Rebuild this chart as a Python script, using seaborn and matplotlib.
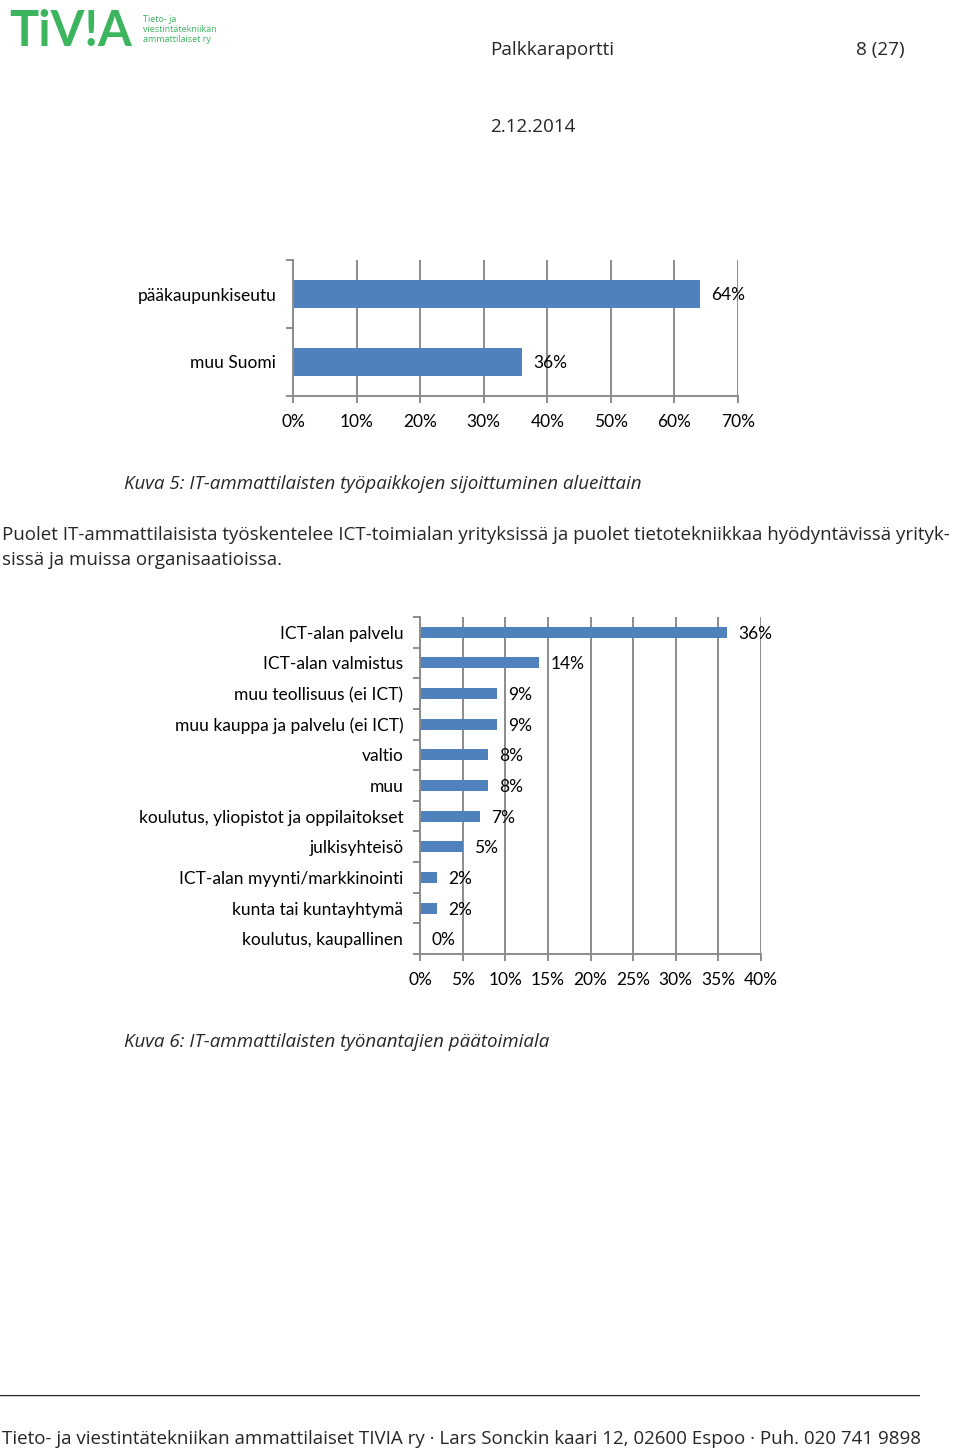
import matplotlib
matplotlib.use("Agg")
import matplotlib.pyplot as plt
import seaborn as sns
import pandas as pd
from matplotlib.ticker import FixedLocator, PercentFormatter

# ---- data ----
region_labels = ["pääkaupunkiseutu", "muu Suomi"]
region_values = [64, 36]

industry_labels = [
    "ICT-alan palvelu",
    "ICT-alan valmistus",
    "muu teollisuus (ei ICT)",
    "muu kauppa ja palvelu (ei ICT)",
    "valtio",
    "muu",
    "koulutus, yliopistot ja oppilaitokset",
    "julkisyhteisö",
    "ICT-alan myynti/markkinointi",
    "kunta tai kuntayhtymä",
    "koulutus, kaupallinen",
]
industry_values = [36, 14, 9, 9, 8, 8, 7, 5, 2, 2, 0]

x1_ticks = [0, 10, 20, 30, 40, 50, 60, 70]
x2_ticks = [0, 5, 10, 15, 20, 25, 30, 35, 40]

# ---- style ----
sns.set_theme(style="white")
plt.rcParams["font.family"] = ["Lato", "DejaVu Sans"]
BAR = "#4F81BD"
GRID = "#8c8c8c"
W, H = 960, 1449
fig = plt.figure(figsize=(W / 100, H / 100), dpi=100)


def ptxt(x, y, s, **kw):
    fig.text(x / W, 1 - y / H, s, **kw)


def axes_px(left, top, right, bottom):
    return fig.add_axes([left / W, 1 - bottom / H, (right - left) / W, (bottom - top) / H])


def style_chart(ax, labels, ticks):
    ax.set_xlim(ticks[0], ticks[-1])
    n = len(labels)
    ax.set_ylim(n - 0.5, -0.5)
    ax.xaxis.set_major_locator(FixedLocator(ticks))
    ax.xaxis.set_major_formatter(PercentFormatter(decimals=0))
    ax.grid(axis="x", color=GRID, lw=1.4)
    ax.grid(axis="y", visible=False)
    ax.set_axisbelow(True)
    for s in ["top", "right"]:
        ax.spines[s].set_visible(False)
    for s in ["left", "bottom"]:
        ax.spines[s].set_visible(True)
        ax.spines[s].set_color(GRID)
        ax.spines[s].set_linewidth(1.4)
    ax.set_xlabel("")
    ax.set_ylabel("")
    ax.tick_params(axis="x", bottom=True, length=5, width=1.4, color=GRID, pad=8,
                   labelsize=12.5, labelcolor="black")
    ax.tick_params(axis="y", which="major", left=False, length=0, pad=12,
                   labelsize=12.5, labelcolor="black")
    ax.yaxis.set_minor_locator(FixedLocator([i - 0.5 for i in range(n + 1)]))
    ax.tick_params(axis="y", which="minor", left=True, length=5, width=1.4, color=GRID)
    for c in ax.containers:
        texts = ax.bar_label(c, labels=[f"{v:.0f}%" for v in c.datavalues], padding=8,
                             fontsize=12.5, color="black")
        for t in texts:
            t.set_verticalalignment("center_baseline")


# ---- chart 1 ----
ax1 = axes_px(293, 260, 738, 396)
df1 = pd.DataFrame({"cat": region_labels, "val": region_values})
sns.barplot(data=df1, x="val", y="cat", orient="h", color=BAR, saturation=1,
            width=0.4, linewidth=0, ax=ax1)
style_chart(ax1, region_labels, x1_ticks)

# ---- chart 2 ----
ax2 = axes_px(420, 617, 761, 954)
df2 = pd.DataFrame({"cat": industry_labels, "val": industry_values})
sns.barplot(data=df2, x="val", y="cat", orient="h", color=BAR, saturation=1,
            width=0.36, linewidth=0, ax=ax2)
style_chart(ax2, industry_labels, x2_ticks)

# ---- page text ----
BODY = ["Open Sans", "DejaVu Sans"]
FS = 13.6
ptxt(9, 32, "TiV!A", fontsize=35, fontweight="bold", color="#3DB55F",
     va="center", ha="left", family=["Lato", "DejaVu Sans"])
ptxt(143, 20, "Tieto- ja", fontsize=6.5, color="#3DB55F", va="center", family=BODY)
ptxt(143, 30, "viestintätekniikan", fontsize=6.5, color="#3DB55F", va="center", family=BODY)
ptxt(143, 40, "ammattilaiset ry", fontsize=6.5, color="#3DB55F", va="center", family=BODY)

ptxt(490, 50, "Palkkaraportti", fontsize=FS, va="center", ha="left", family=BODY)
ptxt(905, 50, "8 (27)", fontsize=FS, va="center", ha="right", family=BODY)
ptxt(490, 127, "2.12.2014", fontsize=FS, va="center", ha="left", family=BODY)

ptxt(124, 484, "Kuva 5: IT-ammattilaisten työpaikkojen sijoittuminen alueittain",
     fontsize=13.5, style="italic", va="center", ha="left", family=BODY)
ptxt(2, 535, "Puolet IT-ammattilaisista työskentelee ICT-toimialan yrityksissä ja puolet "
     "tietotekniikkaa hyödyntävissä yrityk-", fontsize=13.5, va="center", ha="left", family=BODY)
ptxt(2, 560, "sissä ja muissa organisaatioissa.", fontsize=13.5, va="center", ha="left", family=BODY)
ptxt(124, 1042, "Kuva 6: IT-ammattilaisten työnantajien päätoimiala",
     fontsize=13.5, style="italic", va="center", ha="left", family=BODY)

ptxt(0, 1388, "_" * 115, fontsize=13, va="center", ha="left", family=BODY)
ptxt(2, 1439, "Tieto- ja viestintätekniikan ammattilaiset TIVIA ry · Lars Sonckin kaari 12, "
     "02600 Espoo · Puh. 020 741 9898", fontsize=13.5, va="center", ha="left", family=BODY)

fig.savefig("out.png", dpi=100)
